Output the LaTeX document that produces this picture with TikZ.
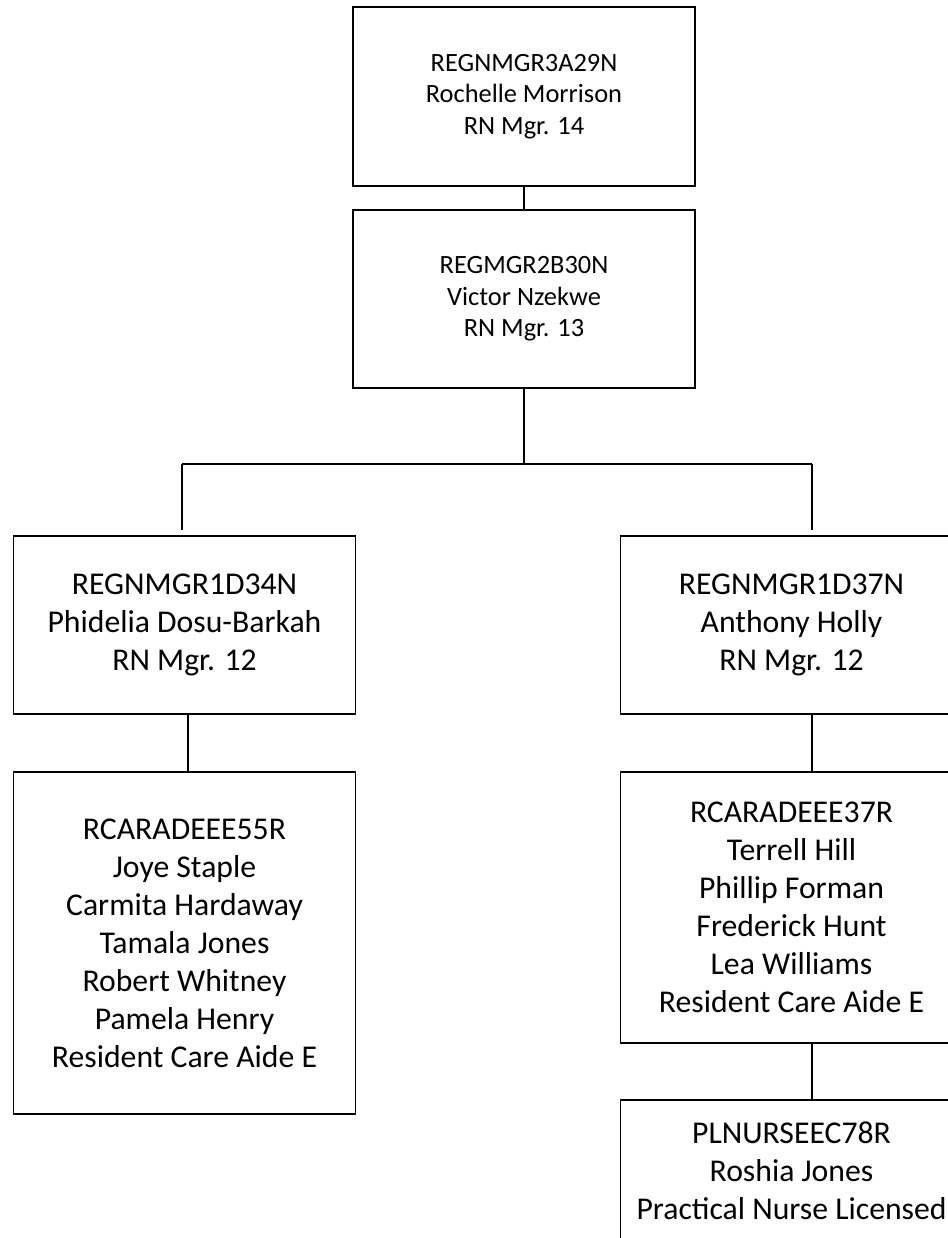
\documentclass[tikz,border=0pt]{standalone}
\usepackage{fontspec}
\setmainfont{Carlito}
\begin{document}
\begin{tikzpicture}[x=1pt,y=-1pt,
  box/.style={draw=black,line width=1.5pt,inner sep=0pt,align=center,minimum width=342pt},
  small/.style={font=\fontsize{26.4}{31.7}\selectfont},
  big/.style={font=\fontsize{31.7}{38}\selectfont},
  conn/.style={draw=black,line width=1.5pt}]
\useasboundingbox (0,0) rectangle (947,1238);
\node[box,small,minimum height=179pt] (top) at (524,96.5) {REGNMGR3A29N\\Rochelle Morrison\\RN Mgr. 14};
\node[box,small,minimum height=178pt] (b2) at (524,299) {REGMGR2B30N\\Victor Nzekwe\\RN Mgr. 13};
\node[box,big,minimum height=178pt] (L1) at (184.5,625) {REGNMGR1D34N\\Phidelia Dosu-Barkah\\RN Mgr. 12};
\node[box,big,minimum height=178pt] (R1) at (791.5,625) {REGNMGR1D37N\\Anthony Holly\\RN Mgr. 12};
\node[box,big,minimum height=342pt] (L2) at (184.5,943) {RCARADEEE55R\\Joye Staple\\Carmita Hardaway\\Tamala Jones\\Robert Whitney\\Pamela Henry\\Resident Care Aide E};
\node[box,big,minimum height=271pt] (R2) at (791.5,907.5) {RCARADEEE37R\\Terrell Hill\\Phillip Forman\\Frederick Hunt\\Lea Williams\\Resident Care Aide E};
\node[box,big,minimum height=142pt] (R3) at (791.5,1171) {PLNURSEEC78R\\Roshia Jones\\Practical Nurse Licensed};
\coordinate (bar) at (524,464);
\coordinate (bl) at (182,464);
\coordinate (br) at (812,464);
\draw[conn] (top) -- (b2);
\draw[conn] (b2.south) -- (bar);
\draw[conn] (bl) -- (br);
\draw[conn,shorten >=5pt] (bl) -- (bl |- L1.north);
\draw[conn,shorten >=5pt] (br) -- (br |- R1.north);
\draw[conn] ([xshift=3.5pt]L1.south) -- ([xshift=3.5pt]L2.north);
\draw[conn] ([xshift=20.5pt]R1.south) -- ([xshift=20.5pt]R2.north);
\draw[conn] ([xshift=20.5pt]R2.south) -- ([xshift=20.5pt]R3.north);
\end{tikzpicture}
\end{document}
